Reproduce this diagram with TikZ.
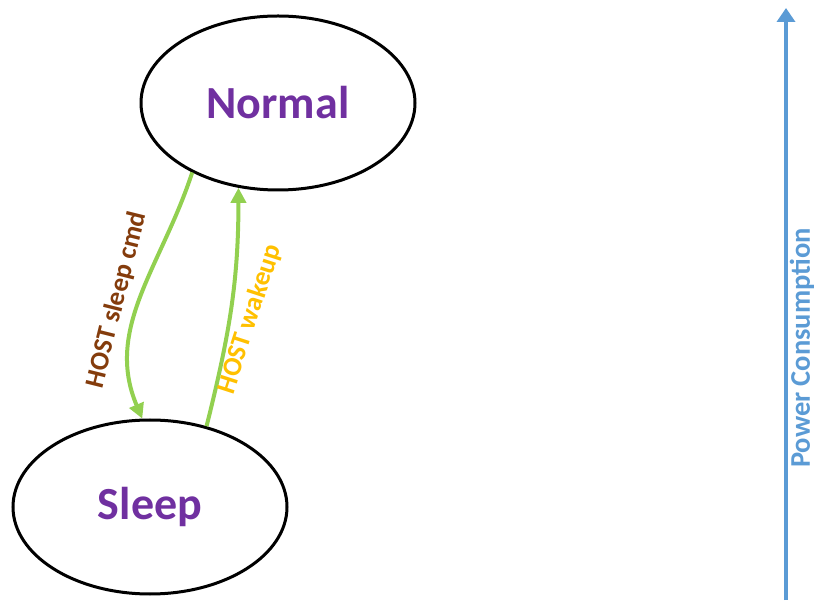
\documentclass[tikz,border=0pt]{standalone}
\usepackage{fontspec}
\setmainfont{Carlito}
\usetikzlibrary{shapes.geometric,arrows.meta}
\definecolor{statepurple}{HTML}{7030A0}
\definecolor{cmdbrown}{HTML}{843C0C}
\definecolor{wakeorange}{HTML}{FFC000}
\definecolor{arrowgreen}{HTML}{92D050}
\definecolor{powerblue}{HTML}{5B9BD5}
\begin{document}
\begin{tikzpicture}[x=1pt,y=1pt,
    state/.style={draw=black,line width=3pt,ellipse,inner sep=0pt,minimum width=274pt,minimum height=174pt,text=statepurple,font=\fontsize{46}{50}\selectfont\bfseries},
    transition/.style={draw=arrowgreen,line width=4pt,-{Triangle[length=15pt,width=15pt]}},
    translabel/.style={font=\fontsize{27}{30}\selectfont\bfseries}]
    \useasboundingbox (0,0) rectangle (814,600);

    \node[state] (normal) at (278,497) {Normal};
    \node[state] (sleep) at (150,93) {Sleep};

    \path (normal.219) edge[transition,out=252,in=113] (sleep.95);
    \path (sleep.55) edge[transition,out=76,in=270] (normal.245);

    \node[translabel,text=cmdbrown,rotate=76] (sleepcmd) at (117,300) {HOST sleep cmd};
    \node[translabel,text=wakeorange,rotate=72] (wakeup) at (250,281) {HOST wakeup};

    \coordinate (powerlow) at (786,0);
    \coordinate (powerhigh) at (786,592);
    \path (powerlow) edge[draw=powerblue,line width=4.5pt,-{Triangle[length=14pt,width=18pt]}] (powerhigh);
    \node[font=\fontsize{28.5}{31}\selectfont\bfseries,text=powerblue,rotate=90] (power) at (802,252) {Power Consumption};
\end{tikzpicture}
\end{document}
